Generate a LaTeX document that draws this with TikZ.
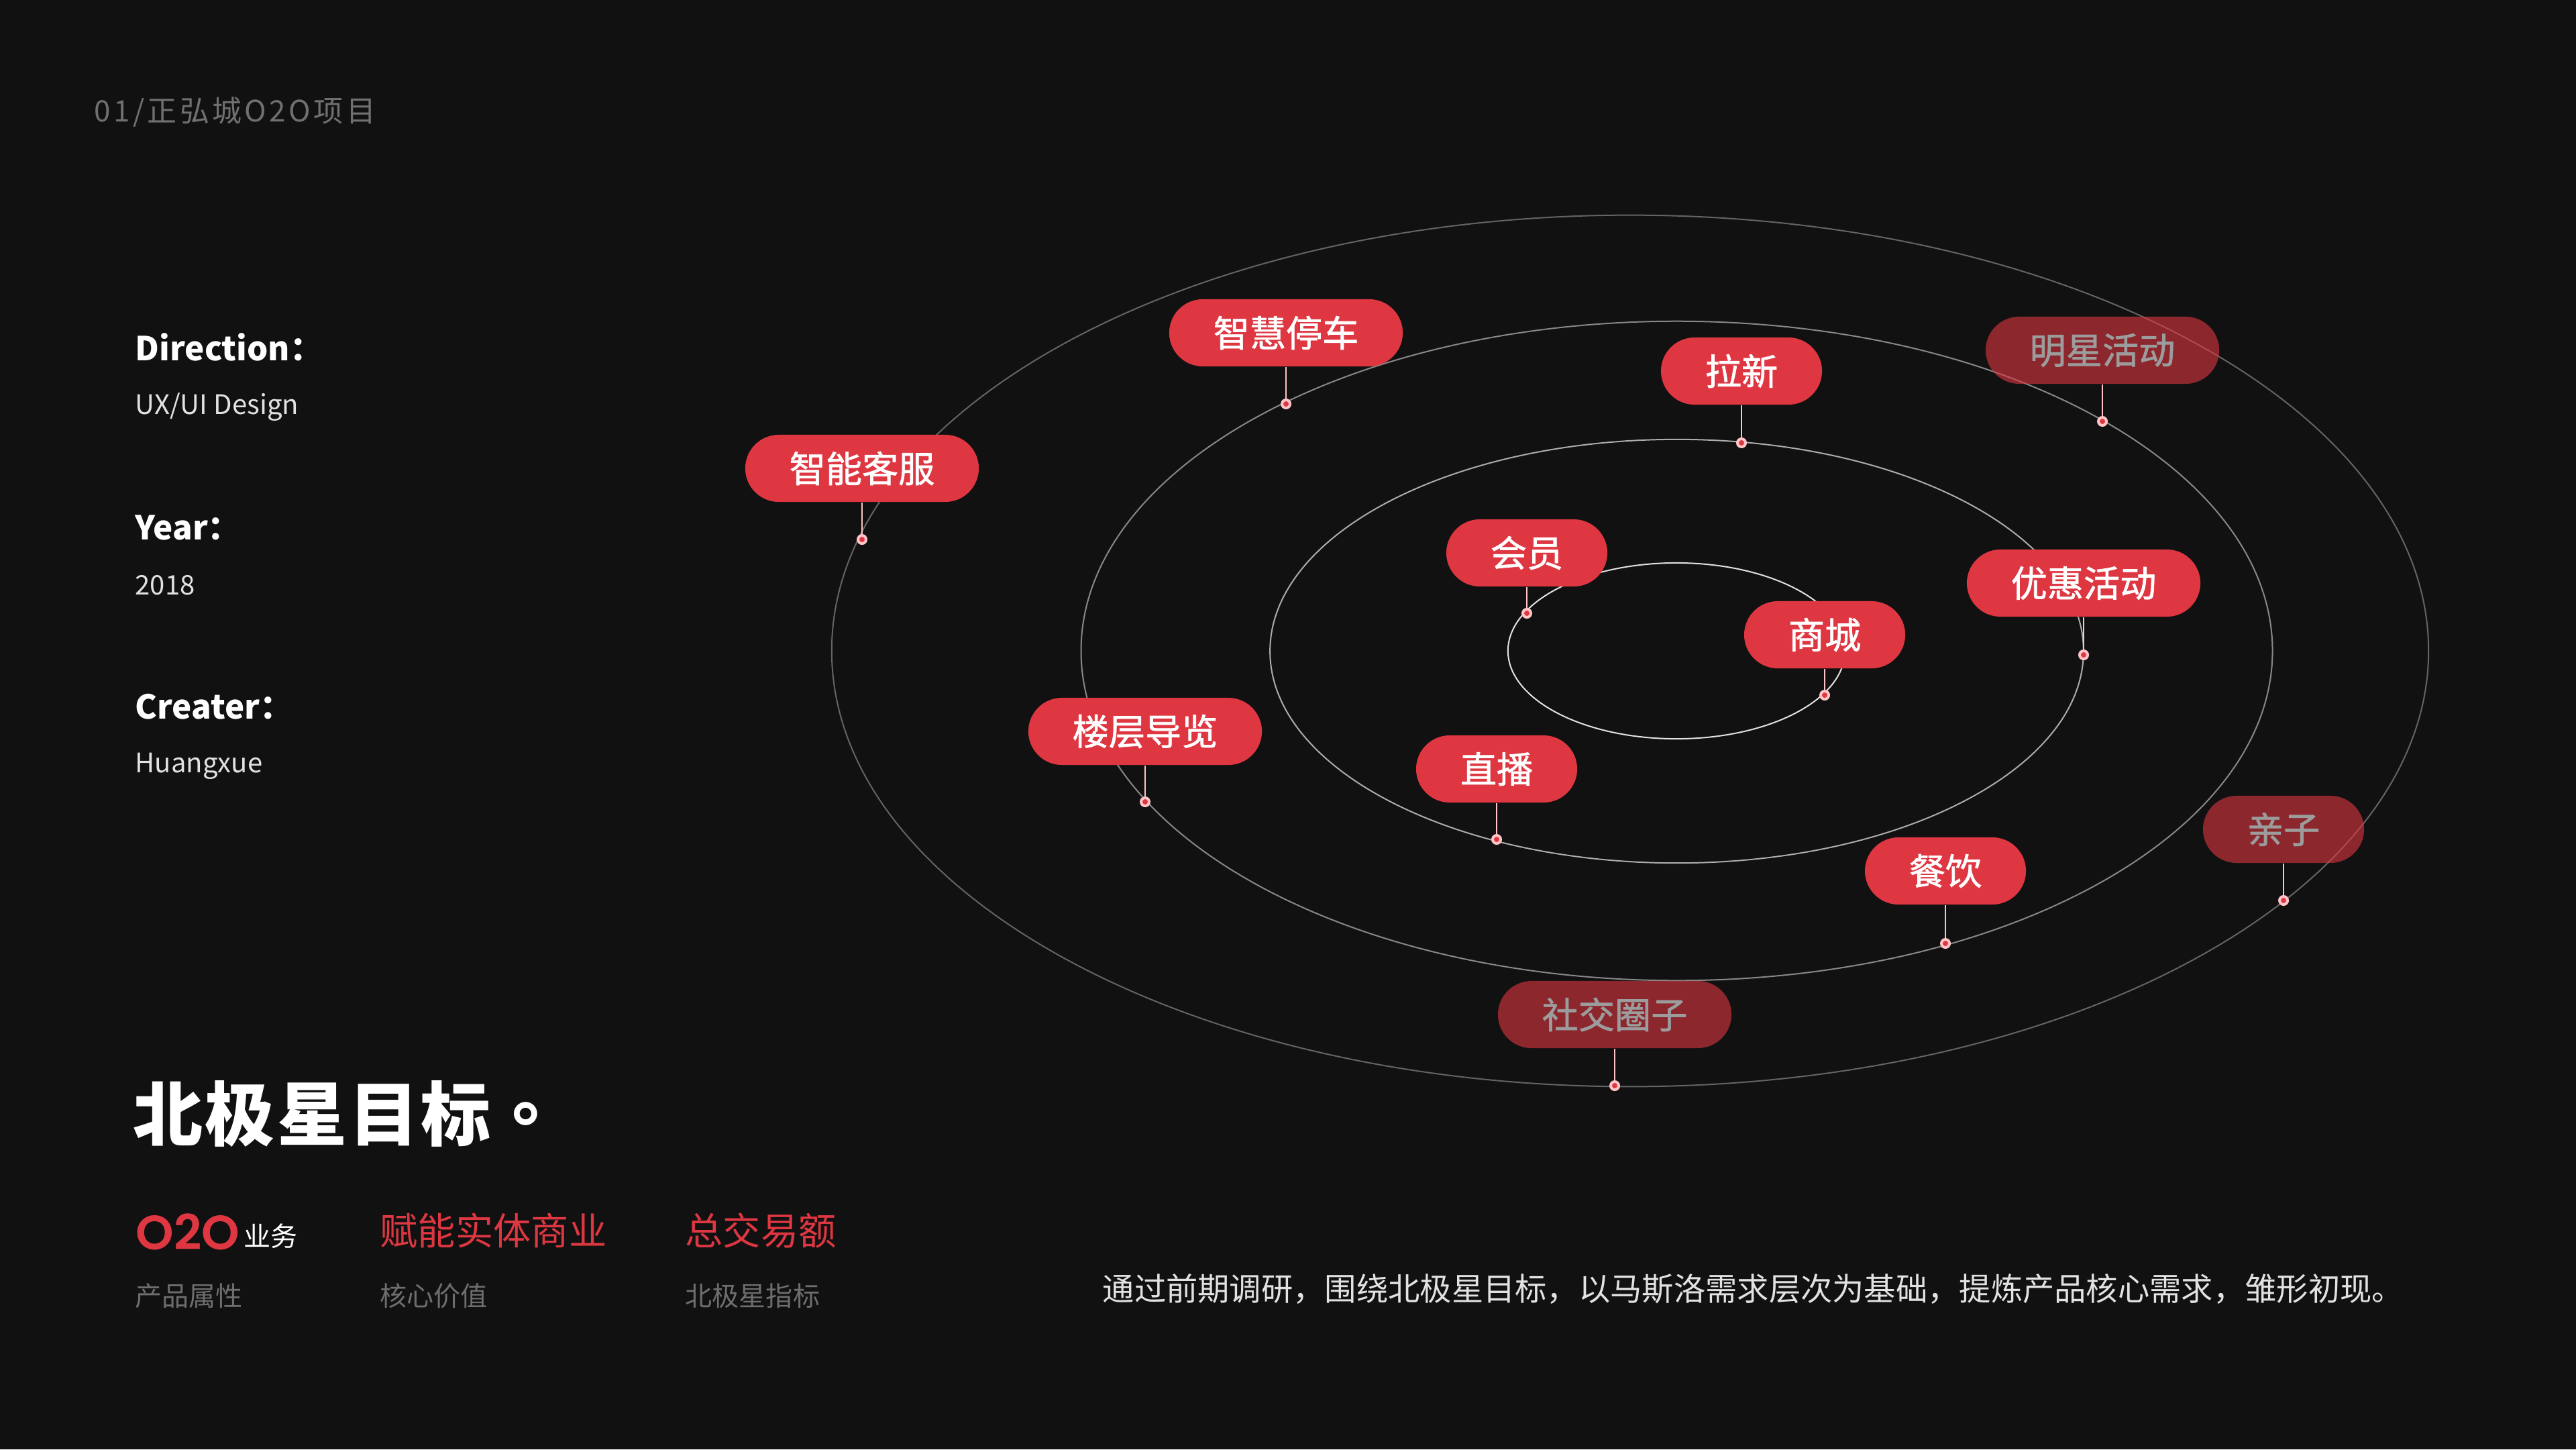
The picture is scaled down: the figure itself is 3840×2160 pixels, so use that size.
\documentclass[tikz,border=0pt]{standalone}
\usepackage{fontspec}
\setmainfont{Noto Sans CJK SC}
\newfontfamily\tcfont{Noto Sans CJK TC}
\newfontfamily\popfont{Poppins}[UprightFont={* SemiBold}]
\newfontfamily\headfont{Noto Sans CJK SC}[LetterSpace=10]
\newfontfamily\titlefont{Noto Sans CJK SC}[LetterSpace=3]
\newfontfamily\pillfont{Noto Sans CJK SC}[FakeBold=1.3]
\definecolor{bg}{HTML}{111111}
\definecolor{pillred}{HTML}{DE3742}
\definecolor{dotpink}{HTML}{FFC4C8}
\definecolor{headgrey}{HTML}{707070}
\definecolor{subgrey}{HTML}{6E6E6E}
\definecolor{fadetext}{HTML}{9C9C9C}
\definecolor{lightw}{HTML}{E2E2E2}
\begin{document}
\begin{tikzpicture}[x=0.01cm,y=-0.01cm,
  pill/.style={rectangle, rounded corners=0.5cm, minimum height=1cm, fill=pillred,
    text=white, font=\fontsize{15.4}{16}\pillfont, inner sep=0pt},
  wide/.style={minimum width=3.48cm},
  narrow/.style={minimum width=2.4cm},
  faded/.style={fill opacity=0.6, text opacity=1, text=fadetext},
  dotnode/.style={circle, fill=pillred, draw=dotpink, line width=0.04cm, minimum size=0.12cm, inner sep=0pt},
  conn/.style={draw=dotpink, line width=0.02cm},
  orbit/.style={line width=0.02cm},
  txt/.style={anchor=west, inner sep=0pt}
]
\fill[bg] (0,0) rectangle (3840,2160);
\useasboundingbox (0,0) rectangle (3840,2160);

% orbits
\draw[orbit, draw=white!35!bg] (2430,970) ellipse [x radius=11.895cm, y radius=6.49cm];
\draw[orbit, draw=white!50!bg] (2499.5,970) ellipse [x radius=8.875cm, y radius=4.91cm];
\draw[orbit, draw=white!65!bg] (2499.5,970.5) ellipse [x radius=6.06cm, y radius=3.155cm];
\draw[orbit, draw=white!88!bg] (2499,970) ellipse [x radius=2.51cm, y radius=1.31cm];

% header and left column
\node[txt, text=headgrey, font=\fontsize{12.5}{14}\headfont] (head) at (140,167) {01/正弘城O2O项目};
\node[txt, text=white, font=\fontsize{14}{16}\selectfont\bfseries] (dirk) at (201,517) {Direction：};
\node[txt, text=lightw, font=\fontsize{11.4}{13}\selectfont] (dirv) at (201,607) {UX/UI Design};
\node[txt, text=white, font=\fontsize{14}{16}\selectfont\bfseries] (yeark) at (201,786) {Year：};
\node[txt, text=lightw, font=\fontsize{11.4}{13}\selectfont] (yearv) at (201,872) {2018};
\node[txt, text=white, font=\fontsize{14}{16}\selectfont\bfseries] (crek) at (201,1053) {Creater：};
\node[txt, text=lightw, font=\fontsize{11.4}{13}\selectfont] (crev) at (201,1142) {Huangxue};

\node[txt, text=white, font=\fontsize{29.6}{32}\titlefont\bfseries] (title) at (198,1660) {北极星目标{\tcfont\bfseries 。}};

\node[txt, text=pillred, font=\fontsize{20.5}{22}\popfont] (o2o) at (202,1836) {O2O};
\node[txt, text=white, font=\fontsize{11.4}{13}\selectfont] (yewu) at (363,1842) {业务};
\node[txt, text=pillred, font=\fontsize{16}{18}\selectfont] (fn) at (566,1834) {赋能实体商业};
\node[txt, text=pillred, font=\fontsize{16}{18}\selectfont] (zj) at (1021,1834) {总交易额};
\node[txt, text=subgrey, font=\fontsize{11.4}{13}\selectfont] (s1) at (201,1931) {产品属性};
\node[txt, text=subgrey, font=\fontsize{11.4}{13}\selectfont] (s2) at (566,1931) {核心价值};
\node[txt, text=subgrey, font=\fontsize{11.4}{13}\selectfont] (s3) at (1021,1931) {北极星指标};

\node[txt, text=lightw, font=\fontsize{13.45}{15}\selectfont] (desc) at (1643,1921) {通过前期调研，围绕北极星目标，以马斯洛需求层次为基础，提炼产品核心需求，雏形初现。};

% pills
\node[pill, wide] (p1) at (1285,698) {智能客服};
\node[pill, wide] (p2) at (1917,496) {智慧停车};
\node[pill, narrow] (p3) at (2596,553) {拉新};
\node[pill, wide, faded] (p4) at (3134,522) {明星活动};
\node[pill, narrow] (p5) at (2276,824) {会员};
\node[pill, narrow] (p6) at (2720,946) {商城};
\node[pill, wide] (p7) at (3106,869) {优惠活动};
\node[pill, wide] (p8) at (1707,1090) {楼层导览};
\node[pill, narrow] (p9) at (2231,1146) {直播};
\node[pill, narrow] (p10) at (2900,1298) {餐饮};
\node[pill, narrow, faded] (p11) at (3404,1236) {亲子};
\node[pill, wide, faded] (p12) at (2407,1512) {社交圈子};

% dots
\node[dotnode] (d1) at (1285,804) {};
\node[dotnode] (d2) at (1917,602) {};
\node[dotnode] (d3) at (2596,660) {};
\node[dotnode] (d4) at (3134,628) {};
\node[dotnode] (d5) at (2276,914) {};
\node[dotnode] (d6) at (2720,1036) {};
\node[dotnode] (d7) at (3106,976) {};
\node[dotnode] (d8) at (1707,1195) {};
\node[dotnode] (d9) at (2231,1251) {};
\node[dotnode] (d10) at (2900,1406) {};
\node[dotnode] (d11) at (3404,1342) {};
\node[dotnode] (d12) at (2407,1618) {};

\foreach \i in {1,...,12} {
  \draw[conn] (p\i.south) -- (d\i.north);
}
\end{tikzpicture}
\end{document}
